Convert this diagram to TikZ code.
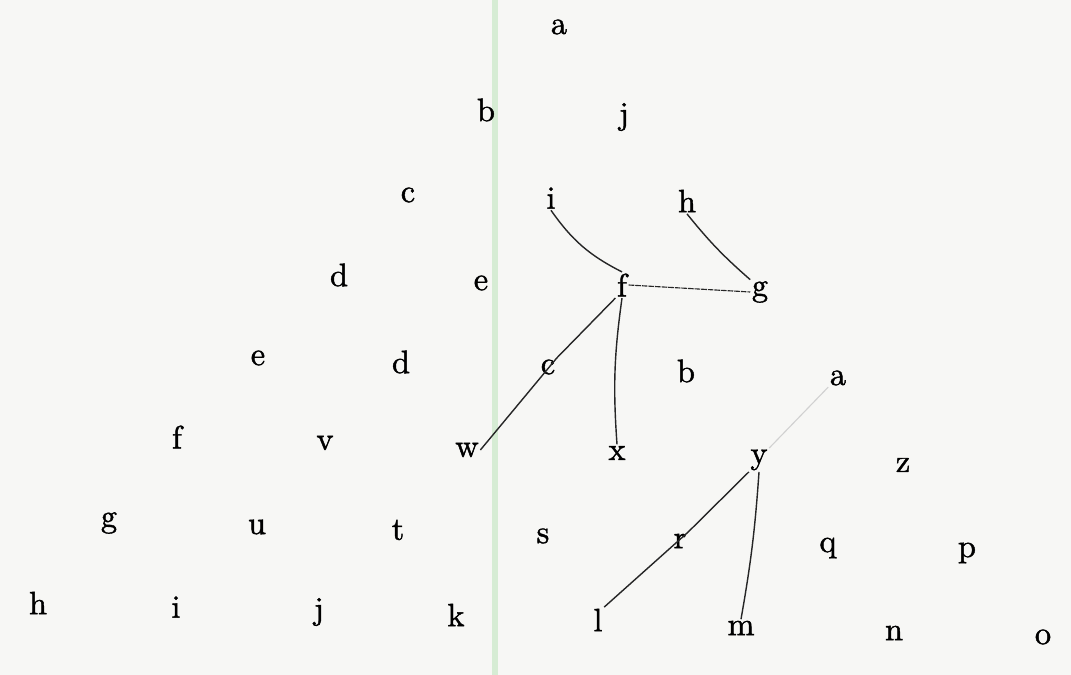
\documentclass[tikz,border=0pt]{standalone}
\usepackage{fontspec}
\usepackage{tikz}
\usetikzlibrary{positioning,calc}
\usepackage{xcolor}

\newfontfamily\scanfont{lmroman10-regular.otf}[FakeBold=1.3]
\definecolor{paper}{RGB}{247,247,245}
\definecolor{fold}{RGB}{214,236,212}

\begin{document}
\begin{tikzpicture}[x=0.025cm,y=-0.025cm,
  lbl/.style={font=\scanfont\fontsize{23}{26}\selectfont, inner sep=1pt},
  link/.style={line width=1pt, black!85}]
\fill[paper] (0,0) rectangle (1071,675);
\useasboundingbox (0,0) rectangle (1071,675);
\fill[fold] (492,0) rectangle (498,675);
% first diagonal
\node[lbl] (a1) at (559,27) {a};
\node[lbl] (b1) at (486,110) {b};
\node[lbl] (c1) at (408,195) {c};
\node[lbl] (d1) at (339,275) {d};
\node[lbl] (e1) at (258,358) {e};
\node[lbl] (f1) at (177,437) {f};
\node[lbl] (g1) at (109,523) {g};
\node[lbl] (h1) at (38,603) {h};
% second diagonal
\node[lbl] (j1) at (624,117) {j};
\node[lbl] (i2) at (551,198) {i};
\node[lbl] (e2) at (481,283) {e};
\node[lbl] (d2) at (401,362) {d};
\node[lbl] (v) at (325,443) {v};
\node[lbl] (u) at (257,527) {u};
\node[lbl] (i1) at (176,607) {i};
% third diagonal
\node[lbl] (h2) at (687,201) {h};
\node[lbl] (f2) at (622,285) {f};
\node[lbl] (c2) at (548,367) {c};
\node[lbl] (w) at (467,450) {w};
\node[lbl] (t) at (398,530) {t};
\node[lbl] (j2) at (319,612) {j};
% fourth diagonal
\node[lbl] (g2) at (760,292) {g};
\node[lbl] (b2) at (686,371) {b};
\node[lbl] (x) at (617,453) {x};
\node[lbl] (s) at (543,536) {s};
\node[lbl] (k) at (456,615) {k};
% fifth diagonal
\node[lbl] (a2) at (838,378) {a};
\node[lbl] (y) at (759,460) {y};
\node[lbl] (r) at (680,541) {r};
\node[lbl] (l) at (598,620) {l};
% bottom right
\node[lbl] (z) at (903,465) {z};
\node[lbl] (q) at (828,548) {q};
\node[lbl] (p) at (967,553) {p};
\node[lbl] (m) at (741,628) {m};
\node[lbl] (n) at (894,633) {n};
\node[lbl] (o) at (1043,637) {o};
% hand drawn links
\draw[link] (i2.south) to[bend right=14] (f2.north);
\draw[link] (h2.south) to[bend right=5] (g2.north west);
\draw[link, line width=0.8pt, dash pattern=on 4pt off 0.7pt] (f2.east) -- (g2.west);
\draw[link] (f2.south west) -- (c2.north east) -- (w.east);
\draw[link] (f2.south) to[bend right=6] (x.north);
\draw[link] (y.south west) -- (r.north east) -- (l.north east);
\draw[link] (y.south) to[bend left=3] (m.north);
\draw[black!18, line width=0.8pt] (y.north east) -- (a2.south west);
\end{tikzpicture}
\end{document}
